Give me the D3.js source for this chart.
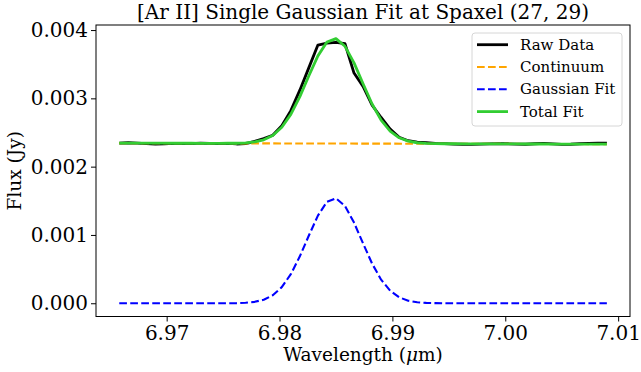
<!DOCTYPE html>
<html>
<head>
    <meta charset="utf-8">
    <title>[Ar II] Single Gaussian Fit</title>
    <script src="https://cdn.jsdelivr.net/npm/d3@7"></script>
    <style>
        body { margin: 0; background: #fff; }
        text { font-family: "DejaVu Serif", serif; fill: #000; }
    </style>
</head>
<body>
<div id="chart"></div>
<script>
    // wavelength grid (um)
    var wave = [6.9658, 6.9666, 6.9674, 6.9682, 6.9690, 6.9698, 6.9706, 6.9714, 6.9722, 6.9730,
        6.9738, 6.9746, 6.9754, 6.9762, 6.9770, 6.9778, 6.9786, 6.9794, 6.9802, 6.9810,
        6.9818, 6.9826, 6.9834, 6.9842, 6.9850, 6.9858, 6.9866, 6.9874, 6.9882, 6.9890,
        6.9898, 6.9906, 6.9914, 6.9922, 6.9930, 6.9938, 6.9946, 6.9954, 6.9962, 6.9970,
        6.9978, 6.9986, 6.9994, 7.0002, 7.0010, 7.0018, 7.0026, 7.0034, 7.0042, 7.0050,
        7.0058, 7.0066, 7.0074, 7.0082, 7.0090];

    var rawFlux = [0.002345, 0.002350, 0.002345, 0.002338, 0.002332, 0.002333, 0.002340, 0.002336, 0.002338, 0.002345,
        0.002340, 0.002336, 0.002340, 0.002332, 0.002338, 0.002370, 0.002410, 0.002460, 0.002600, 0.002820,
        0.003120, 0.003450, 0.003780, 0.003810, 0.003820, 0.003800, 0.003370, 0.003175, 0.002900, 0.002720,
        0.002550, 0.002430, 0.002380, 0.002360, 0.002350, 0.002340, 0.002336, 0.002330, 0.002328, 0.002327,
        0.002330, 0.002333, 0.002338, 0.002335, 0.002330, 0.002328, 0.002335, 0.002340, 0.002332, 0.002325,
        0.002328, 0.002335, 0.002340, 0.002345, 0.002345];

    var contWave = [6.9658, 7.0090];
    var contFlux = [0.002345, 0.002330];

    var gaussFlux = [0, 0, 0, 0, 0, 0, 0, 0, 0, 0,
        0, 0, 0.0000007, 0.0000023, 0.0000073, 0.0000206, 0.0000519, 0.000117, 0.000236, 0.000425,
        0.000687, 0.000992, 0.001283, 0.001485, 0.001537, 0.001424, 0.001181, 0.000876, 0.000581, 0.000345,
        0.000184, 0.0000873, 0.0000371, 0.0000142, 0.0000048, 0.0000015, 0.0000004, 0, 0, 0,
        0, 0, 0, 0, 0, 0, 0, 0, 0, 0,
        0, 0, 0, 0, 0];

    var totalFlux = [0.002345, 0.002345, 0.002344, 0.002344, 0.002344, 0.002344, 0.002343, 0.002343, 0.002343, 0.002342,
        0.002342, 0.002342, 0.002343, 0.002343, 0.002348, 0.002362, 0.002393, 0.002457, 0.002576, 0.002765,
        0.003026, 0.003331, 0.003622, 0.003824, 0.003875, 0.003762, 0.003519, 0.003213, 0.002918, 0.002682,
        0.002521, 0.002423, 0.002373, 0.002350, 0.002340, 0.002337, 0.002335, 0.002335, 0.002334, 0.002334,
        0.002334, 0.002333, 0.002333, 0.002333, 0.002333, 0.002332, 0.002332, 0.002332, 0.002331, 0.002331,
        0.002331, 0.002331, 0.002330, 0.002330, 0.002330];

    var xTicks = [6.97, 6.98, 6.99, 7.00, 7.01];
    var yTicks = [0.000, 0.001, 0.002, 0.003, 0.004];
    var legendNames = ["Raw Data", "Continuum", "Gaussian Fit", "Total Fit"];

    var width = 641, height = 372;
    var margin = {top: 25, right: 11, bottom: 55.5, left: 96};

    var svg = d3.select("#chart").append("svg")
        .attr("width", width)
        .attr("height", height);

    var x = d3.scaleLinear()
        .domain([6.96374, 7.01105])
        .range([margin.left, width - margin.right]);

    var y = d3.scaleLinear()
        .domain([-0.000194, 0.004074])
        .range([height - margin.bottom, margin.top]);

    var line = d3.line()
        .x(d => x(d[0]))
        .y(d => y(d[1]));

    var series = [
        {name: legendNames[0], pts: d3.zip(wave, rawFlux), color: "#000000", w: 2.8, dash: null},
        {name: legendNames[1], pts: d3.zip(contWave, contFlux), color: "#ffa500", w: 2.1, dash: "7.7,3.3"},
        {name: legendNames[2], pts: d3.zip(wave, gaussFlux), color: "#0000ff", w: 2.1, dash: "7.7,3.3"},
        {name: legendNames[3], pts: d3.zip(wave, totalFlux), color: "#32cd32", w: 2.8, dash: null}
    ];

    svg.append("g")
        .selectAll("path")
        .data(series)
        .enter()
        .append("path")
        .attr("d", d => line(d.pts))
        .attr("fill", "none")
        .attr("stroke", d => d.color)
        .attr("stroke-width", d => d.w)
        .attr("stroke-dasharray", d => d.dash)
        .attr("stroke-linejoin", "round");

    // axes
    var xAxis = g => g
        .attr("transform", `translate(0,${height - margin.bottom})`)
        .call(d3.axisBottom(x).tickValues(xTicks).tickFormat(d3.format(".2f")).tickSizeOuter(0).tickSize(5).tickPadding(4))
        .call(g => g.select(".domain").remove())
        .call(g => g.selectAll("text").style("font-size", "20px").style("font-family", "DejaVu Serif"));

    var yAxis = g => g
        .attr("transform", `translate(${margin.left},0)`)
        .call(d3.axisLeft(y).tickValues(yTicks).tickFormat(d3.format(".3f")).tickSizeOuter(0).tickSize(5).tickPadding(3))
        .call(g => g.select(".domain").remove())
        .call(g => g.selectAll("text").style("font-size", "20px").style("font-family", "DejaVu Serif"));

    svg.append("g").call(xAxis);
    svg.append("g").call(yAxis);

    svg.append("rect")
        .attr("x", margin.left)
        .attr("y", margin.top)
        .attr("width", width - margin.left - margin.right)
        .attr("height", height - margin.top - margin.bottom)
        .attr("fill", "none")
        .attr("stroke", "#000")
        .attr("stroke-width", 1);

    // titles
    svg.append("text")
        .attr("x", (margin.left + width - margin.right) / 2)
        .attr("y", 19)
        .attr("text-anchor", "middle")
        .style("font-size", "20px")
        .text("[Ar II] Single Gaussian Fit at Spaxel (27, 29)");

    var xl = svg.append("text")
        .attr("x", (margin.left + width - margin.right) / 2)
        .attr("y", 361)
        .attr("text-anchor", "middle")
        .style("font-size", "18.5px");
    xl.append("tspan").text("Wavelength (");
    xl.append("tspan").style("font-style", "italic").text("μ");
    xl.append("tspan").text("m)");

    svg.append("text")
        .attr("transform", `translate(21,${(margin.top + height - margin.bottom) / 2}) rotate(-90)`)
        .attr("text-anchor", "middle")
        .style("font-size", "18.5px")
        .text("Flux (Jy)");

    // legend
    var lg = svg.append("g").attr("transform", "translate(472,33)");
    lg.append("rect")
        .attr("width", 150)
        .attr("height", 93)
        .attr("rx", 3)
        .attr("fill", "#fff")
        .attr("fill-opacity", 0.8)
        .attr("stroke", "#d6d6d6")
        .attr("stroke-width", 1);

    var item = lg.selectAll(".item")
        .data(series)
        .enter()
        .append("g")
        .attr("class", "item")
        .attr("transform", (d, i) => `translate(0,${11.7 + i * 22.3})`);

    item.append("line")
        .attr("x1", 5).attr("x2", 36)
        .attr("stroke", d => d.color)
        .attr("stroke-width", d => d.w)
        .attr("stroke-dasharray", d => d.dash);

    item.append("text")
        .attr("x", 48)
        .attr("y", 5)
        .style("font-size", "15px")
        .text(d => d.name);
</script>
</body>
</html>
